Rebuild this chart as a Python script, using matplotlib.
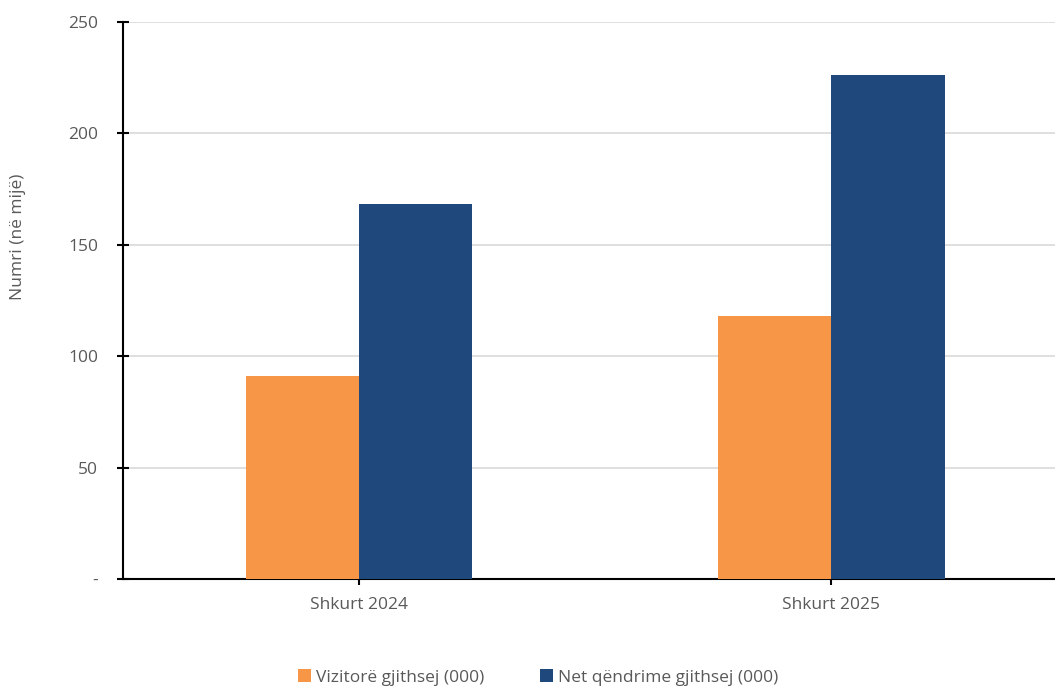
import matplotlib.pyplot as plt
import numpy as np

categories = ["Shkurt 2024", "Shkurt 2025"]
vizitore = [91.2, 118.2]
qendrime = [168.5, 226.3]
series_names = ["Vizitorë gjithsej (000)", "Net qëndrime gjithsej (000)"]
yticks = [0, 50, 100, 150, 200, 250]
ytick_labels = ["-", "50", "100", "150", "200", "250"]

ORANGE = "#f79646"
BLUE = "#1f497d"
GREY = "#595959"

plt.rcParams['font.family'] = ['Open Sans', 'DejaVu Sans']

fig = plt.figure(figsize=(10.55, 6.87), dpi=100)
ax = fig.add_axes([0.1166, 0.1572, 0.8834, 0.8108])

x = np.arange(len(categories))
w = 0.24
ax.bar(x - w / 2, vizitore, w, color=ORANGE, label=series_names[0], zorder=3)
ax.bar(x + w / 2, qendrime, w, color=BLUE, label=series_names[1], zorder=3)

ax.set_xlim(-0.5, 1.474)
ax.set_ylim(0, 250)
ax.set_yticks(yticks)
ax.set_yticklabels(ytick_labels, color=GREY, fontsize=12.5)
ax.set_xticks(x)
ax.set_xticklabels(categories, color=GREY, fontsize=12.5)
ax.tick_params(axis='both', direction='inout', length=8, width=1.5, color='black')
ax.tick_params(axis='x', pad=9)
ax.tick_params(axis='y', pad=14)
ax.yaxis.grid(True, color='#d9d9d9', linewidth=1.2, zorder=0)
ax.set_axisbelow(True)

for s in ['top', 'right']:
    ax.spines[s].set_visible(False)
ax.spines['left'].set_linewidth(1.5)
ax.spines['bottom'].set_linewidth(1.5)

fig.text(0.017, 0.656, "Numri (në mijë)", rotation=90, ha='center', va='center',
         color=GREY, fontsize=12.5)

fig.legend(loc='center', bbox_to_anchor=(0.51, 0.014), ncol=2, frameon=False,
           fontsize=12.5, handlelength=0.75, handleheight=0.75, handletextpad=0.3,
           columnspacing=3.2, labelcolor=GREY)

fig.savefig("out.png", dpi=100)
